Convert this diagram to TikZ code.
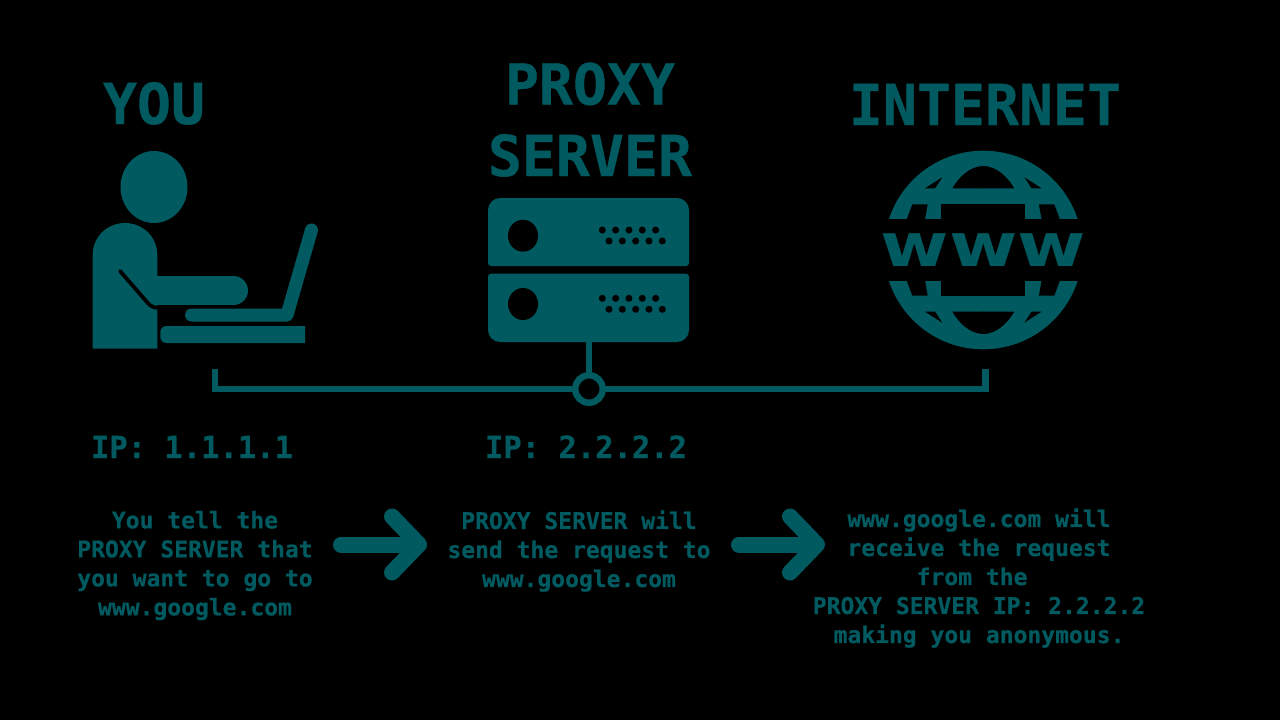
\documentclass[tikz,border=0pt]{standalone}
\usepackage{fontspec}
\setmainfont{DejaVu Sans Mono}[BoldFeatures={FakeBold=0.6}]
\newfontfamily\globefont{DejaVu Sans}
\usetikzlibrary{arrows.meta}
\definecolor{tealicon}{HTML}{005A60}

\tikzset{
  title/.style={anchor=base, text=tealicon, font=\bfseries\fontsize{56.5}{71}\selectfont, inner sep=0pt},
  ipaddr/.style={anchor=base, text=tealicon, font=\bfseries\fontsize{30.5}{36}\selectfont, inner sep=0pt},
  caption/.style={text=tealicon, align=center, font=\bfseries\fontsize{23}{29}\selectfont, inner sep=0pt},
  wire/.style={draw=tealicon, line width=6.5pt},
  flow/.style={draw=tealicon, line width=16pt, line cap=round, line join=round,
    -{Straight Barb[round, length=27pt, width=56pt]}},
}

\begin{document}
\begin{tikzpicture}[x=1pt, y=-1pt]
        \useasboundingbox (0,0) rectangle (1280,720);
        \fill[black] (0,0) rectangle (1280,720);

        % Titles
        \node[title] (you) at (154,124) {YOU};
        \node[title] (proxy) at (590,104.5) {PROXY};
        \node[title] (server) at (590,176) {SERVER};
        \node[title] (internet) at (985,125) {INTERNET};

        % Person
        \fill[tealicon] (154,187) ellipse (33.5 and 36);
        \fill[tealicon] (92.7,348.7) -- (92.7,255) .. controls (92.7,237) and (107,223) .. (125,223)
          .. controls (143,223) and (157.3,237) .. (157.3,255) -- (157.3,348.7) -- cycle;
        \draw[tealicon, line width=29pt, line cap=round] (150,290.5) -- (233.5,290.5);
        \draw[black, line width=3.8pt, line cap=round] (120,271) -- (146.7,301.7)
          .. controls (149,304.5) and (152,307.7) .. (157.3,307.7);

        % Laptop and desk
        \draw[tealicon, line width=13pt, line cap=round, line join=round] (191.5,315) -- (287,315) -- (311.5,230);
        \fill[tealicon] (230,343) [rounded corners=6pt] -- (160.3,343) -- (160.3,326) [sharp corners] -- (230,326)
          -- (305,326) -- (305,343) -- cycle;

        % Server units
        \fill[tealicon, rounded corners=12pt] (488,240) -- (488,198) -- (689,198) -- (689,240) [sharp corners]
          -- (689,262) [rounded corners=3pt] -- (689,266) -- (488,266) [sharp corners] -- (488,262) -- cycle;
        \fill[tealicon, rounded corners=3pt] (488,290) -- (488,273.7) -- (689,273.7) -- (689,290) [rounded corners=12pt]
          -- (689,342) -- (488,342) -- cycle;
        \foreach \unit in {0,68.3} {
          \fill[black] (523,235.7+\unit) ellipse (15 and 16);
          \foreach \k in {0,...,4} {
            \fill[black] (602.3+13.33*\k,230+\unit) circle (3.5);
            \fill[black] (609+13.33*\k,241+\unit) circle (3.5);
          }
        }

        % Globe
        \fill[tealicon] (983.3,250) circle (99.3);
        \fill[black] (870,219.3) rectangle (1100,280.7);
        \foreach \flipx in {1,-1} {
          \foreach \flipy in {1,-1} {
            \begin{scope}[shift={(983.3,250)}, xscale=\flipx, yscale=\flipy]
              \fill[black] (-42,-46) rectangle (0.5,-30);
              \fill[black] (-76.6,-30.5) -- (-71,-45.7) -- (-55.6,-45.7) -- (-58.3,-30.5) -- cycle;
              \fill[black] (-58.3,-61.7) -- (-41,-72.7) -- (-48.3,-61.7) -- cycle;
              \fill[black] (-31,-61.7) .. controls (-23,-75) and (-12,-84) .. (0.5,-84) -- (0.5,-61.7) -- cycle;
            \end{scope}
          }
        }
        \node[text=tealicon, inner sep=0pt, xscale=1.235, font=\globefont\bfseries\fontsize{60}{60}\selectfont] (www) at (983.3,250) {www};

        % Network line
        \node[circle, draw=tealicon, line width=6.5pt, fill=black, minimum size=27.5pt, inner sep=0pt] (hub) at (589,389) {};
        \coordinate (youdrop) at (215,369);
        \coordinate (netdrop) at (985.5,369);
        \coordinate (serverfoot) at (589,342);
        \draw[wire] (youdrop) |- (hub);
        \draw[wire] (netdrop) |- (hub);
        \draw[wire] (serverfoot) -- (hub);

        % Addresses
        \node[ipaddr] (youip) at (192,458) {IP: 1.1.1.1};
        \node[ipaddr] (proxyip) at (586,458) {IP: 2.2.2.2};

        % Captions
        \node[caption] (tell) at (195,565.5) {You tell the\\PROXY SERVER that\\you want to go to\\www.google.com};
        \node[caption] (send) at (579,551) {PROXY SERVER will\\send the request to\\www.google.com};
        \node[caption] (receive) at (979,578) {www.google.com will\\receive the request\\from the\hbox{~}\\PROXY SERVER IP: 2.2.2.2\\making you anonymous.};

        % Arrows
        \coordinate (tellout) at (341,544.5);
        \coordinate (sendin) at (427,544.5);
        \coordinate (sendout) at (739,544.5);
        \coordinate (receivein) at (825,544.5);
        \draw[flow] (tellout) -- (sendin);
        \draw[flow] (sendout) -- (receivein);
\end{tikzpicture}
\end{document}
